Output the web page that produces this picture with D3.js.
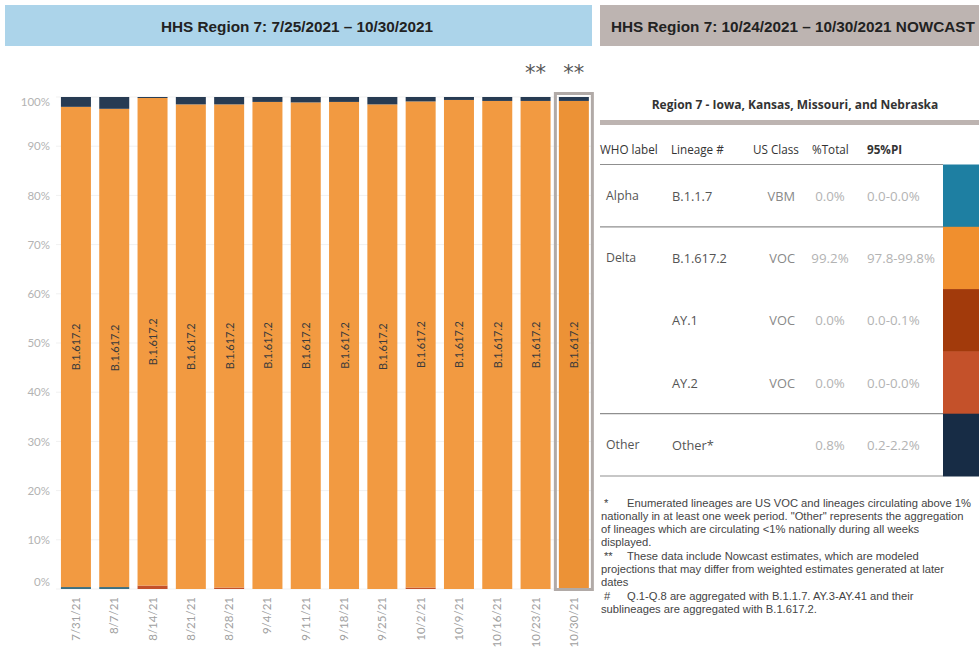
<!DOCTYPE html>
<html>
<head>
<meta charset="utf-8">
<script src="https://cdn.jsdelivr.net/npm/d3@7"></script>
<style>
  html, body { margin: 0; padding: 0; background: #fff; }
  svg { display: block; }
</style>
</head>
<body>
<svg id="chart" width="979" height="648"></svg>
<script>
// ---------- DATA ----------
const weeks = ["7/31/21","8/7/21","8/14/21","8/21/21","8/28/21","9/4/21","9/11/21","9/18/21","9/25/21","10/2/21","10/9/21","10/16/21","10/23/21","10/30/21"];
const alphaShare = [0.4, 0.4, 0, 0, 0, 0, 0, 0, 0, 0, 0, 0, 0, 0];
const ay1Share   = [0, 0, 0, 0, 0, 0, 0, 0, 0, 0, 0, 0, 0, 0];
const ay2Share   = [0, 0, 0.7, 0, 0.3, 0, 0, 0, 0, 0.3, 0, 0, 0, 0];
const deltaShare = [97.6, 97.2, 99.1, 98.5, 98.2, 99.0, 98.9, 99.0, 98.5, 98.8, 99.4, 99.2, 99.2, 99.2];
const otherShare = [2.0, 2.4, 0.2, 1.5, 1.5, 1.0, 1.1, 1.0, 1.5, 0.9, 0.6, 0.8, 0.8, 0.8];
const nowcastWeeks = ["10/23/21", "10/30/21"];
const yTicks = [0, 10, 20, 30, 40, 50, 60, 70, 80, 90, 100];

const tblWho     = ["Alpha", "Delta", "", "", "Other"];
const tblLineage = ["B.1.1.7", "B.1.617.2", "AY.1", "AY.2", "Other*"];
const tblClass   = ["VBM", "VOC", "VOC", "VOC", ""];
const tblTotal   = ["0.0%", "99.2%", "0.0%", "0.0%", "0.8%"];
const tblPI      = ["0.0-0.0%", "97.8-99.8%", "0.0-0.1%", "0.0-0.0%", "0.2-2.2%"];
const tblColors  = ["#1e7fa2", "#f08f2e", "#a23a0b", "#c4512a", "#172c45"];

const footnotes = [
  {mark: "*",  lines: ["Enumerated lineages are US VOC and lineages circulating above 1%",
                       "nationally in at least one week period. \"Other\" represents the aggregation",
                       "of lineages which are circulating <1% nationally during all weeks",
                       "displayed."]},
  {mark: "**", lines: ["These data include Nowcast estimates, which are modeled",
                       "projections that may differ from weighted estimates generated at later",
                       "dates"]},
  {mark: "#",  lines: ["Q.1-Q.8 are aggregated with B.1.1.7. AY.3-AY.41 and their",
                       "sublineages are aggregated with B.1.617.2."]}
];

// ---------- SETUP ----------
const svg = d3.select("#chart");
const W = 979, H = 648;
svg.append("rect").attr("width", W).attr("height", H).attr("fill", "#fff");

const colors = {alpha: "#3b6f80", ay1: "#a23a0b", ay2: "#c4512a", delta: "#f29a41", other: "#273b53"};
const keys = ["alpha", "ay1", "ay2", "delta", "other"];

// ---------- TITLE BANNERS ----------
svg.append("rect").attr("x", 5).attr("y", 5).attr("width", 587).attr("height", 41).attr("fill", "#acd4ea");
svg.append("text").attr("x", 297).attr("y", 26).attr("text-anchor", "middle").attr("dominant-baseline", "central")
  .attr("font-family", "Liberation Sans, Arial, sans-serif").attr("font-weight", "bold").attr("font-size", 15.3)
  .attr("fill", "#222").text("HHS Region 7: 7/25/2021 \u2013 10/30/2021");

svg.append("rect").attr("x", 600).attr("y", 5).attr("width", 379).attr("height", 41).attr("fill", "#bdb4b1");
svg.append("text").attr("x", 611).attr("y", 26).attr("dominant-baseline", "central")
  .attr("font-family", "Liberation Sans, Arial, sans-serif").attr("font-weight", "bold").attr("font-size", 15.3)
  .attr("fill", "#222").text("HHS Region 7: 10/24/2021 \u2013 10/30/2021 NOWCAST");

// ---------- LEFT CHART ----------
const x = d3.scaleBand().domain(weeks).range([56.8, 593]).paddingInner(0.217).paddingOuter(0.108);
const y = d3.scaleLinear().domain([0, 100]).range([589, 97]);

// gridlines
svg.append("g").selectAll("line").data(yTicks).join("line")
  .attr("x1", 56).attr("x2", 594)
  .attr("y1", d => y(d)).attr("y2", d => y(d))
  .attr("stroke", "#f1f1f1").attr("stroke-width", 1);

// y axis
const yAxis = svg.append("g").attr("transform", "translate(52,0)")
  .call(d3.axisLeft(y).tickValues(yTicks).tickFormat(d => d + "%").tickSize(0).tickPadding(2));
yAxis.select(".domain").remove();
yAxis.selectAll("text").attr("font-family", "Lato, sans-serif").attr("font-size", 11.5).attr("fill", "#b3b3b3")
  .attr("dy", d => d === 100 ? "0.7em" : d === 0 ? "-0.3em" : "0.32em");

// stacked bars
const rows = weeks.map((w, i) => ({week: w, alpha: alphaShare[i], ay1: ay1Share[i], ay2: ay2Share[i], delta: deltaShare[i], other: otherShare[i]}));
const stacked = d3.stack().keys(keys)(rows);
const lastWeek = weeks[weeks.length - 1];

svg.append("g").selectAll("g").data(stacked).join("g")
  .selectAll("rect").data(d => d.map(v => Object.assign(v, {key: d.key}))).join("rect")
  .attr("x", d => x(d.data.week))
  .attr("width", x.bandwidth())
  .attr("y", d => y(d[1]))
  .attr("height", d => Math.max(0, y(d[0]) - y(d[1])))
  .attr("fill", d => (d.key === "delta" && d.data.week === lastWeek) ? "#ec9236" : colors[d.key]);

// highlight box around last week
svg.append("rect")
  .attr("x", x(lastWeek) - 3.5).attr("y", y(100) - 3.5)
  .attr("width", x.bandwidth() + 7).attr("height", y(0) - y(100) + 4)
  .attr("fill", "none").attr("stroke", "#b1aaa7").attr("stroke-width", 3);

// delta labels
const deltaLayer = stacked.find(s => s.key === "delta");
svg.append("g").selectAll("text").data(deltaLayer).join("text")
  .attr("transform", d => `translate(${x(d.data.week) + x.bandwidth() / 2},${(y(d[0]) + y(d[1])) / 2}) rotate(-90)`)
  .attr("text-anchor", "middle").attr("dominant-baseline", "central")
  .attr("font-family", "Lato, sans-serif").attr("font-size", 11).attr("fill", "#3b3b3b")
  .text("B.1.617.2");

// nowcast markers
svg.append("g").selectAll("text").data(nowcastWeeks).join("text")
  .attr("x", d => x(d) + x.bandwidth() / 2).attr("y", 73)
  .attr("text-anchor", "middle").attr("dominant-baseline", "central")
  .attr("font-family", "DejaVu Sans, sans-serif").attr("font-size", 21).attr("fill", "#555")
  .text("**");

// x axis labels
const xAxis = svg.append("g").attr("transform", `translate(0,${y(0)})`)
  .call(d3.axisBottom(x).tickSize(0).tickPadding(0));
xAxis.select(".domain").remove();
xAxis.selectAll("text")
  .attr("transform", "translate(0,8) rotate(-90)")
  .attr("text-anchor", "end").attr("dy", "0.35em").attr("dx", 0).attr("x", 0).attr("y", 0)
  .attr("font-family", "Lato, sans-serif").attr("font-size", 11.5).attr("fill", "#a0a0a0");

// ---------- RIGHT TABLE ----------
const tf = "Open Sans, sans-serif";
svg.append("text").attr("x", 795).attr("y", 104).attr("text-anchor", "middle").attr("dominant-baseline", "central")
  .attr("font-family", tf).attr("font-weight", "bold").attr("font-size", 12).attr("fill", "#333")
  .text("Region 7 - Iowa, Kansas, Missouri, and Nebraska");
svg.append("rect").attr("x", 600).attr("y", 120).attr("width", 379).attr("height", 5).attr("fill", "#bdb4b1");

const headers = [
  {t: "WHO label", x: 600, a: "start", w: "normal"},
  {t: "Lineage #", x: 671, a: "start", w: "normal"},
  {t: "US Class", x: 753, a: "start", w: "normal"},
  {t: "%Total", x: 812, a: "start", w: "normal"},
  {t: "95%PI", x: 867, a: "start", w: "bold"}
];
svg.append("g").selectAll("text").data(headers).join("text")
  .attr("x", d => d.x).attr("y", 149).attr("text-anchor", d => d.a).attr("dominant-baseline", "central")
  .attr("font-family", tf).attr("font-size", 11.7).attr("font-weight", d => d.w).attr("fill", "#333")
  .text(d => d.t);

const ry = d3.scaleBand().domain(tblLineage).range([164.5, 476]);
// swatches
svg.append("g").selectAll("rect").data(tblLineage).join("rect")
  .attr("x", 943).attr("y", d => ry(d)).attr("width", 36).attr("height", ry.bandwidth() + 0.5)
  .attr("fill", (d, i) => tblColors[i]);

// separator lines
const sepAfter = [null, "B.1.1.7", "AY.2", "Other*"];
svg.append("g").selectAll("line").data(sepAfter).join("line")
  .attr("x1", 600).attr("x2", 943)
  .attr("y1", d => d === null ? 164.5 : ry(d) + ry.bandwidth())
  .attr("y2", d => d === null ? 164.5 : ry(d) + ry.bandwidth())
  .attr("stroke", "#8f8f8f").attr("stroke-width", 1.2);

const cell = (arr, xx, anchor, fill, size) => {
  svg.append("g").selectAll("text").data(arr).join("text")
    .attr("x", xx).attr("y", (d, i) => ry(tblLineage[i]) + ry.bandwidth() / 2)
    .attr("text-anchor", anchor).attr("dominant-baseline", "central")
    .attr("font-family", tf).attr("font-size", size).attr("fill", fill)
    .text(d => d);
};
cell(tblWho, 606, "start", "#555", 12.3);
cell(tblLineage, 672, "start", "#555", 12.8);
cell(tblClass, 795, "end", "#888", 12.8);
cell(tblTotal, 830, "middle", "#b3b3b3", 13.3);
cell(tblPI, 867, "start", "#b3b3b3", 13.3);

// ---------- FOOTNOTES ----------
const fnY = [503, 516, 529, 542, 555.5, 569, 582, 595.5, 608.5];
let li = 0;
const fg = svg.append("g").attr("font-family", "Liberation Sans, Arial, sans-serif").attr("font-size", 11.2).attr("fill", "#444");
footnotes.forEach(fn => {
  fn.lines.forEach((line, j) => {
    const yy = fnY[li++];
    if (j === 0) {
      fg.append("text").attr("x", 604).attr("y", yy).attr("dominant-baseline", "central").text(fn.mark);
      fg.append("text").attr("x", 627).attr("y", yy).attr("dominant-baseline", "central").text(line);
    } else {
      fg.append("text").attr("x", 601).attr("y", yy).attr("dominant-baseline", "central").text(line);
    }
  });
});
</script>
</body>
</html>
